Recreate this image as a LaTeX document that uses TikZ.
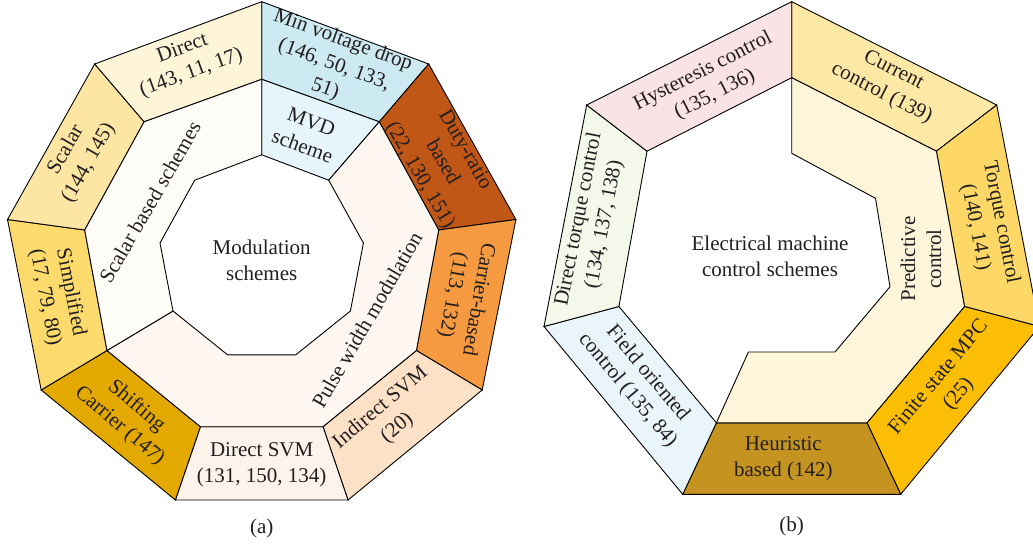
\documentclass[tikz,border=0pt]{standalone}
\usepackage{fontspec}
\setmainfont{Liberation Serif}
\definecolor{cDirect}{HTML}{FEF5D8}
\definecolor{cMin}{HTML}{CDEAF3}
\definecolor{cDuty}{HTML}{C05717}
\definecolor{cCarr}{HTML}{F59A40}
\definecolor{cInd}{HTML}{FDE1C6}
\definecolor{cDSVM}{HTML}{FEF3EA}
\definecolor{cShift}{HTML}{E3A900}
\definecolor{cSimp}{HTML}{FDDA6C}
\definecolor{cScal}{HTML}{FDE6A3}
\definecolor{cSbs}{HTML}{FFFDF8}
\definecolor{cMVD}{HTML}{E6F5FB}
\definecolor{cPWM}{HTML}{FEF6F0}
\definecolor{cHyst}{HTML}{F9E3E4}
\definecolor{cCur}{HTML}{FEE8A6}
\definecolor{cTorq}{HTML}{FDD867}
\definecolor{cFin}{HTML}{FBBE05}
\definecolor{cHeur}{HTML}{C5931F}
\definecolor{cField}{HTML}{E9F5FB}
\definecolor{cDTC}{HTML}{F4F8EA}
\definecolor{cPred}{HTML}{FEF5DA}
\definecolor{txt}{HTML}{231F20}
\begin{document}
\begin{tikzpicture}[x=1pt,y=-1pt,
  seg/.style={draw=black, line width=0.9pt, line join=miter},
  lbl/.style={align=center, font=\fontsize{21}{26}\selectfont, text=txt, inner sep=0pt}]
\useasboundingbox (0,0) rectangle (1033,546);
% ---------- left nonagon ----------
\coordinate (O1) at (261.7,1.7);
\coordinate (O2) at (428.7,64);
\coordinate (O3) at (515.9,219.5);
\coordinate (O4) at (482.2,390);
\coordinate (O5) at (348,500);
\coordinate (O6) at (175.4,500);
\coordinate (O7) at (41.2,390);
\coordinate (O8) at (7.5,219.5);
\coordinate (O9) at (94.7,64);
\coordinate (M1) at (261.7,79.3);
\coordinate (M2) at (379.3,121.8);
\coordinate (M3) at (438.7,230);
\coordinate (M4) at (416.4,350.5);
\coordinate (M5) at (323,426.7);
\coordinate (M6) at (200.4,426.7);
\coordinate (M7) at (107,350.5);
\coordinate (M8) at (84.7,230);
\coordinate (M9) at (144.1,121.8);
\coordinate (I1) at (261.7,154.8);
\coordinate (I2) at (328.7,180.2);
\coordinate (I3) at (363.4,243);
\coordinate (I4) at (350.4,311);
\coordinate (I5) at (295.7,354.9);
\coordinate (I6) at (227.7,354.9);
\coordinate (I7) at (173,311);
\coordinate (I8) at (160,243);
\coordinate (I9) at (194.7,180.2);

\path[seg, fill=cMin]   (O1)--(O2)--(M2)--(M1)--cycle;
\path[seg, fill=cDuty]  (O2)--(O3)--(M3)--(M2)--cycle;
\path[seg, fill=cCarr]  (O3)--(O4)--(M4)--(M3)--cycle;
\path[seg, fill=cInd]   (O4)--(O5)--(M5)--(M4)--cycle;
\path[seg, fill=cDSVM]  (O5)--(O6)--(M6)--(M5)--cycle;
\path[seg, fill=cShift] (O6)--(O7)--(M7)--(M6)--cycle;
\path[seg, fill=cSimp]  (O7)--(O8)--(M8)--(M7)--cycle;
\path[seg, fill=cScal]  (O8)--(O9)--(M9)--(M8)--cycle;
\path[seg, fill=cDirect](O9)--(O1)--(M1)--(M9)--cycle;
\path[seg, fill=cMVD] (M1)--(M2)--(I2)--(I1)--cycle;
\path[seg, fill=cPWM] (M2)--(M3)--(M4)--(M5)--(M6)--(M7)--(I7)--(I6)--(I5)--(I4)--(I3)--(I2)--cycle;
\path[seg, fill=cSbs] (M7)--(M8)--(M9)--(M1)--(I1)--(I9)--(I8)--(I7)--cycle;

\node[lbl, rotate=20]  (tDirect)  at (187,61)     {Direct\\(143, 11, 17)};
\node[lbl, rotate=-20] (tMin)     at (334,65)     {Min voltage drop\\(146, 50, 133,\\51)};
\node[lbl, rotate=-60] (tDuty)    at (442,163)    {Duty-ratio\\based\\(22, 130, 151)};
\node[lbl, rotate=-100](tCarr)    at (465,297)    {Carrier-based\\(113, 132)};
\node[lbl, rotate=40]  (tInd)     at (389,418)    {Indirect SVM\\(20)};
\node[lbl]             (tDSVM)    at (261.7,465)  {Direct SVM\\(131, 150, 134)};
\node[lbl, rotate=-40] (tShift)   at (128,416)    {Shifting\\Carrier (147)};
\node[lbl, rotate=-79] (tSimp)    at (57.7,295)   {Simplified\\(17, 79, 80)};
\node[lbl, rotate=60]  (tScal)    at (77.5,156.5) {Scalar\\(144, 145)};
\node[lbl, rotate=-20] (tMVD)     at (307,134)    {MVD\\scheme};
\node[lbl, rotate=60]  (tSbs)     at (150,202)    {Scalar based schemes};
\node[lbl, rotate=60]  (tPWM)     at (367,320)    {Pulse width modulation};
\node[lbl]             (tMod)     at (261.7,260)  {Modulation\\schemes};
\node[lbl]             (ta)       at (261.7,528)  {(a)};

% ---------- right heptagon ----------
\coordinate (P1) at (791.7,1.7);
\coordinate (P2) at (996.7,105);
\coordinate (P3) at (1039.4,326.5);
\coordinate (P4) at (900.7,494.3);
\coordinate (P5) at (682.7,494.3);
\coordinate (P6) at (544,326.5);
\coordinate (P7) at (586.7,105);
\coordinate (Q1) at (791.7,77.7);
\coordinate (Q2) at (936.4,151.2);
\coordinate (Q3) at (964.5,306.5);
\coordinate (Q4) at (867,422.8);
\coordinate (Q5) at (716.4,422.8);
\coordinate (Q6) at (618.9,306.5);
\coordinate (Q7) at (647,151.2);
\coordinate (H1) at (791.7,153.3);
\coordinate (H2) at (875.5,198.3);
\coordinate (H3) at (890,286.7);
\coordinate (H4) at (835,352);
\coordinate (H5) at (748.4,352);

\path[seg, fill=cCur]   (P1)--(P2)--(Q2)--(Q1)--cycle;
\path[seg, fill=cTorq]  (P2)--(P3)--(Q3)--(Q2)--cycle;
\path[seg, fill=cFin]   (P3)--(P4)--(Q4)--(Q3)--cycle;
\path[seg, fill=cHeur]  (P4)--(P5)--(Q5)--(Q4)--cycle;
\path[seg, fill=cField] (P5)--(P6)--(Q6)--(Q5)--cycle;
\path[seg, fill=cDTC]   (P6)--(P7)--(Q7)--(Q6)--cycle;
\path[seg, fill=cHyst]  (P7)--(P1)--(Q1)--(Q7)--cycle;
\path[seg, fill=cPred]  (Q1)--(Q2)--(Q3)--(Q4)--(Q5)--(H5)--(H4)--(H3)--(H2)--(H1)--cycle;

\node[lbl, rotate=27]  (tHyst)  at (709,83)      {Hysteresis control\\(135, 136)};
\node[lbl, rotate=-27] (tCur)   at (887.5,82)    {Current\\control (139)};
\node[lbl, rotate=-79] (tTorq)  at (988,225)     {Torque control\\(140, 141)};
\node[lbl, rotate=50]  (tFin)   at (949,386)     {Finite state MPC\\(25)};
\node[lbl]             (tHeur)  at (783.3,459)   {Heuristic\\based (142)};
\node[lbl, rotate=-50] (tField) at (637.5,382)   {Field oriented\\control (135, 84)};
\node[lbl, rotate=79]  (tDTC)   at (591.7,222)   {Direct torque control\\(134, 137, 138)};
\node[lbl, rotate=90]  (tPred)  at (921,259)     {Predictive\\control};
\node[lbl]             (tElec)  at (770,256.6)   {Electrical machine\\control schemes};
\node[lbl]             (tb)     at (791.7,526.7) {(b)};
\end{tikzpicture}
\end{document}
